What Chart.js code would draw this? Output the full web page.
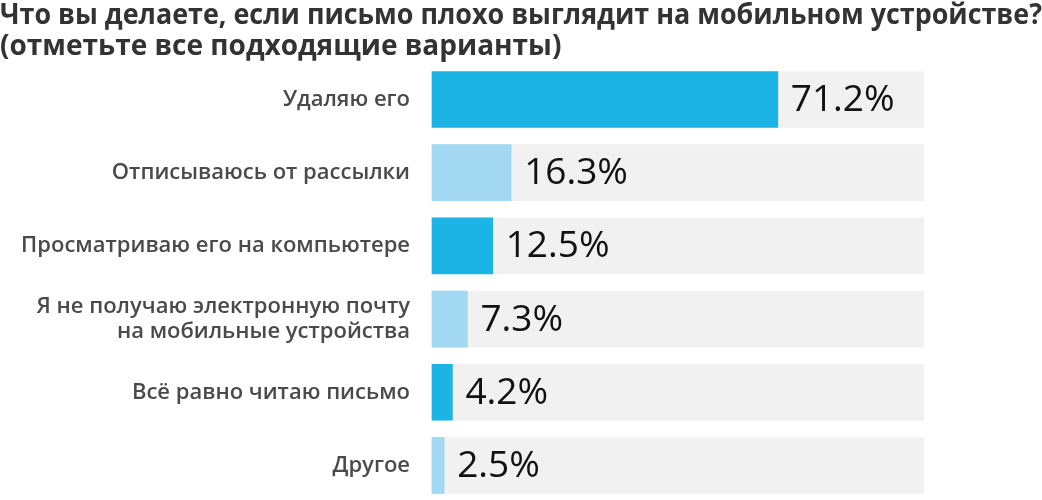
<!DOCTYPE html>
<html lang="ru">
<head>
  <meta charset="UTF-8">
  <title>chart</title>
  <script src="https://cdn.jsdelivr.net/npm/chart.js"></script>
  <style>
    html, body { margin: 0; padding: 0; background: #fff; }
    .chartBox { width: 1042px; height: 500px; }
  </style>
</head>
<body>
  <div class="chartBox">
    <canvas id="myChart"></canvas>
  </div>
  <script>
    // data
    const titleLines = [
      'Что вы делаете, если письмо плохо выглядит на мобильном устройстве?',
      '(отметьте все подходящие варианты)'
    ];
    const categories = [
      'Удаляю его',
      'Отписываюсь от рассылки',
      'Просматриваю его на компьютере',
      ['Я не получаю электронную почту', 'на мобильные устройства'],
      'Всё равно читаю письмо',
      'Другое'
    ];
    const values = [71.2, 16.3, 12.5, 7.3, 4.2, 2.5];
    const trackMax = 101.3;   // grey track length
    const axisMax = 125.6;    // leaves room on the right for the canvas edge
    const tracks = categories.map(() => trackMax);

    const barColors = ['#1bb4e4', '#a2d8f2', '#1bb4e4', '#a2d8f2', '#1bb4e4', '#a2d8f2'];

    // percent labels right after each bar
    const valueLabels = {
      id: 'valueLabels',
      afterDatasetsDraw(chart) {
        const { ctx } = chart;
        const meta = chart.getDatasetMeta(0);
        ctx.save();
        ctx.font = '37px "Open Sans", sans-serif';
        ctx.fillStyle = '#111';
        ctx.textAlign = 'left';
        ctx.textBaseline = 'middle';
        meta.data.forEach((bar, i) => {
          ctx.fillText(values[i].toFixed(1) + '%', bar.x + 13, bar.y + 1);
        });
        ctx.restore();
      }
    };

    const data = {
      labels: categories,
      datasets: [
        {
          data: values,
          backgroundColor: barColors,
          barThickness: 56,
          grouped: false,
          clip: false,
          order: 1
        },
        {
          data: tracks,
          backgroundColor: '#f1f1f1',
          barThickness: 56,
          grouped: false,
          clip: false,
          order: 2
        }
      ]
    };

    const config = {
      type: 'bar',
      data,
      options: {
        indexAxis: 'y',
        responsive: false,
        animation: false,
        layout: { padding: { left: 0, right: 0, top: 0, bottom: 30 } },
        scales: {
          x: { display: false, min: 0, max: axisMax },
          y: {
            offset: false,
            grid: { display: false, drawTicks: false },
            border: { display: false },
            ticks: {
              padding: 22,
              color: '#4a4a4a',
              font: { family: '"Open Sans", sans-serif', size: 22, weight: '600', lineHeight: 1.14 }
            },
            afterFit(scale) { scale.width = 432; }
          }
        },
        plugins: {
          legend: { display: false },
          tooltip: { enabled: false },
          title: {
            display: true,
            text: titleLines,
            align: 'start',
            color: '#333',
            font: { family: '"Open Sans", sans-serif', size: 28, weight: '700', lineHeight: 1.1 },
            padding: { top: 1, bottom: 36.9 }
          }
        }
      },
      plugins: [valueLabels]
    };

    const canvas = document.getElementById('myChart');
    canvas.width = 1042;
    canvas.height = 500;
    const myChart = new Chart(canvas, config);
  </script>
</body>
</html>
